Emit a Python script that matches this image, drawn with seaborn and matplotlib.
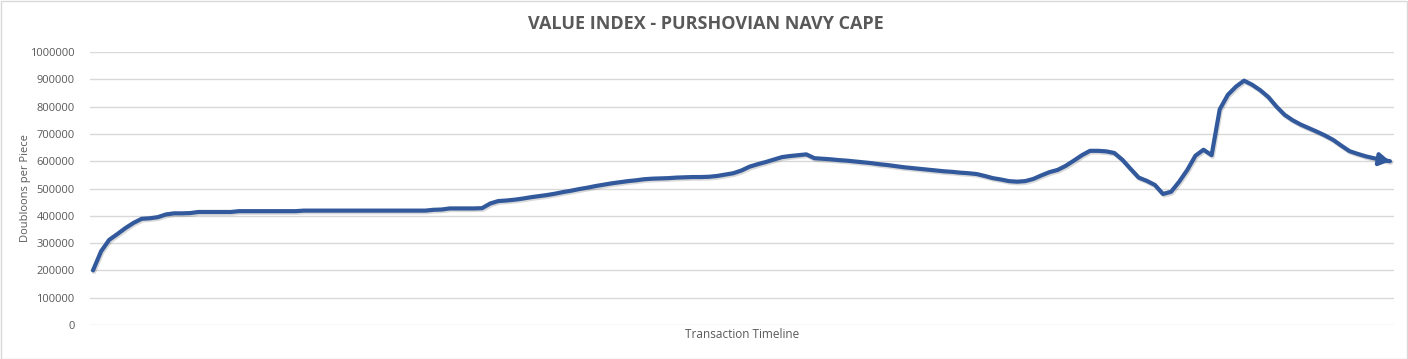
import numpy as np
import pandas as pd
import matplotlib
matplotlib.use("Agg")
import matplotlib.pyplot as plt
import matplotlib.patheffects as pe
from matplotlib.patches import Rectangle
import seaborn as sns

title = "VALUE INDEX - PURSHOVIAN NAVY CAPE"
x_label = "Transaction Timeline"
y_label = "Doubloons per Piece"
y_ticks = [0, 100000, 200000, 300000, 400000, 500000, 600000, 700000, 800000, 900000, 1000000]

values = [
    200000, 270000, 312000, 333000, 355000, 374000, 389000, 391000, 395000, 405000,
    409000, 409000, 410000, 414000, 414000, 414000, 414000, 414000, 417000, 417000,
    417000, 417000, 417000, 417000, 417000, 417000, 419000, 419000, 419000, 419000,
    419000, 419000, 419000, 419000, 419000, 419000, 419000, 419000, 419000, 419000,
    419000, 419000, 422000, 423000, 427000, 427000, 427000, 427000, 428000, 445000,
    454000, 456000, 459000, 463000, 468000, 472000, 476000, 481000, 487000, 492000,
    498000, 503000, 509000, 514000, 519000, 523000, 527000, 530000, 534000, 536000,
    537000, 538000, 540000, 541000, 542000, 542000, 543000, 546000, 551000, 556000,
    566000, 580000, 589000, 597000, 606000, 615000, 619000, 622000, 625000, 611000,
    609000, 607000, 604000, 602000, 599000, 596000, 593000, 589000, 586000, 582000,
    578000, 575000, 572000, 569000, 566000, 563000, 561000, 558000, 556000, 553000,
    546000, 538000, 533000, 527000, 525000, 527000, 535000, 548000, 560000, 568000,
    583000, 602000, 622000, 638000, 638000, 636000, 630000, 605000, 572000, 540000,
    528000, 513000, 480000, 488000, 525000, 568000, 620000, 642000, 622000, 790000,
    843000, 873000, 895000, 880000, 860000, 835000, 800000, 770000, 750000, 734000,
    721000, 708000, 694000, 678000, 657000, 637000, 627000, 618000, 611000, 605000,
    600000,
]
index = list(range(len(values)))

df = pd.DataFrame({"t": index, "v": values})

sns.set_theme(style="white")
plt.rcParams["font.family"] = ["Open Sans", "DejaVu Sans"]

W, H = 1408, 359
fig = plt.figure(figsize=(W / 100, H / 100), dpi=100)
ax = fig.add_axes([90 / W, 34 / H, (1394 - 90) / W, (325 - 52) / H])

line_color = "#32599C"
sns.lineplot(data=df, x="t", y="v", ax=ax, color=line_color, linewidth=3.0,
             solid_joinstyle="round", solid_capstyle="round",
             path_effects=[pe.SimpleLineShadow(offset=(0.8, -1.2), alpha=0.15, shadow_color="black"),
                           pe.Normal()])

# arrow at end
ax.annotate("", xy=(index[-1], values[-1]), xytext=(index[-2], values[-2]),
            arrowprops=dict(arrowstyle="-|>,head_length=0.5,head_width=0.3",
                            color=line_color, lw=3.0, shrinkA=0, shrinkB=0))

ax.set_ylim(0, 1000000)
ax.set_xlim(-0.37, len(values) - 1 + 0.5)
ax.set_yticks(y_ticks)
ax.set_yticklabels([str(v) for v in y_ticks], color="#595959", fontsize=8)
ax.set_xticks([])
ax.grid(axis="y", color="#D9D9D9", linewidth=1.0)
ax.set_axisbelow(True)
for s in ax.spines.values():
    s.set_visible(False)
ax.tick_params(axis="y", length=0, pad=11)

ax.set_xlabel(x_label, color="#595959", fontsize=8.5, labelpad=2)
ax.set_ylabel(y_label, color="#595959", fontsize=8)
ax.yaxis.set_label_coords((31 - 90) / 1304, 0.5)

fig.text(706 / W, 1 - 24 / H, title, ha="center", va="center",
         fontsize=13, fontweight="bold", color="#595959")

fig.patches.append(Rectangle((0.5 / W, 0.5 / H), 1 - 1.5 / W, 1 - 1.5 / H,
                             transform=fig.transFigure, fill=False,
                             edgecolor="#D9D9D9", linewidth=1.0))

fig.savefig("out.png", dpi=100)
